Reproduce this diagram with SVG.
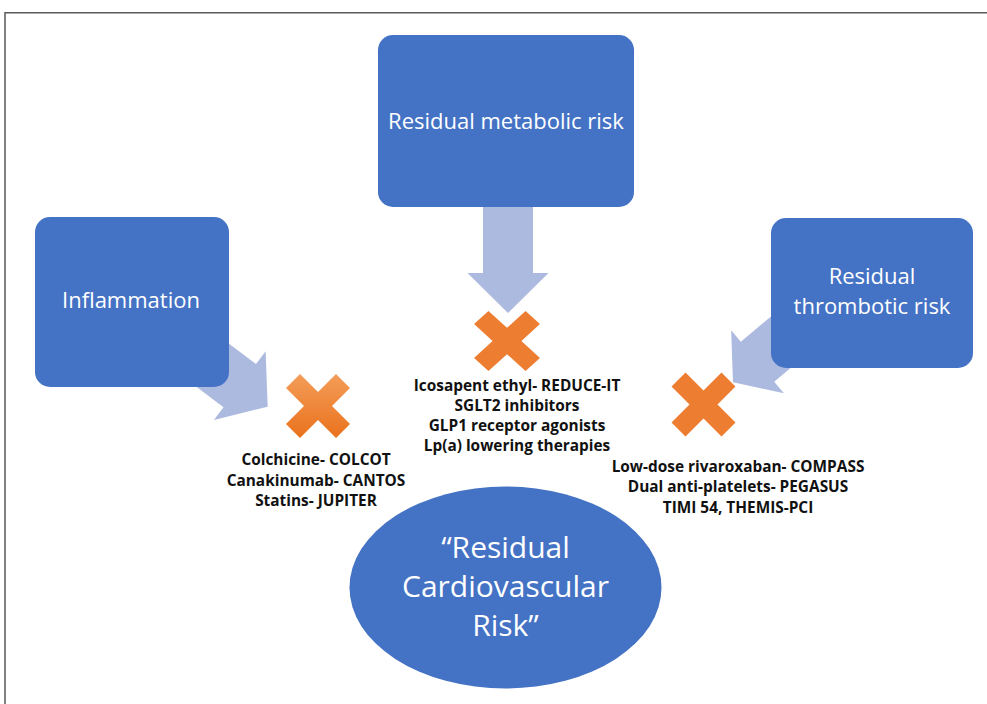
<svg xmlns="http://www.w3.org/2000/svg" xmlns:xlink="http://www.w3.org/1999/xlink" width="987" height="704" viewBox="0 0 987 704">
<style>
.node{fill:#4472C4;}
.arrow{fill:#ADBAE0;}
.xm{fill:#ED7D31;}
.ntxt{font-family:"Open Sans","Liberation Sans",sans-serif;font-size:22px;fill:#FFFFFF;text-anchor:middle;}
.etxt{font-family:"Open Sans","Liberation Sans",sans-serif;font-size:30px;fill:#FFFFFF;text-anchor:middle;}
.lbl{font-family:"Open Sans","Liberation Sans",sans-serif;font-size:15.4px;font-weight:bold;fill:#111111;text-anchor:middle;}
.frame{fill:none;stroke:#5A5A5A;stroke-width:1.5;}
</style>
<defs>
<linearGradient id="xgrad" x1="0" y1="0" x2="0" y2="1">
<stop offset="0" stop-color="#F49D58"/>
<stop offset="1" stop-color="#E9721D"/>
</linearGradient>
<path id="xmark" d="M-32,-18 L-18,-32 L0,-14 L18,-32 L32,-18 L14,0 L32,18 L18,32 L0,14 L-18,32 L-32,18 L-14,0 Z"/>
</defs>
<rect width="987" height="704" fill="#FFFFFF"/>
<path class="frame" d="M5,704 L5,12.75 L987,12.75"/>

<g id="connectors">
<path class="arrow" transform="translate(508,313) rotate(90)" d="M0,0 L-40,-40.5 L-40,-25 L-110,-25 L-110,25 L-40,25 L-40,40.5 Z"/>
<path class="arrow" transform="translate(267.7,406.7) rotate(37)" d="M0,0 L-35,-43 L-35,-27 L-110,-27 L-110,27 L-35,27 L-35,43 Z"/>
<path class="arrow" transform="translate(733,382.3) rotate(140)" d="M0,0 L-32,-41 L-32,-26 L-110,-26 L-110,26 L-32,26 L-32,41 Z"/>
</g>

<g id="node-metabolic">
<rect class="node" x="378" y="35" width="256" height="172" rx="15"/>
<text class="ntxt" x="506" y="129">Residual metabolic risk</text>
</g>
<g id="node-inflammation">
<rect class="node" x="35" y="217" width="194" height="170" rx="15"/>
<text class="ntxt" x="131" y="308">Inflammation</text>
</g>
<g id="node-thrombotic">
<rect class="node" x="771" y="218" width="202" height="150" rx="15"/>
<text class="ntxt" x="872" y="284">Residual</text>
<text class="ntxt" x="872" y="314">thrombotic risk</text>
</g>

<g id="block-metabolic">
<use xlink:href="#xmark" href="#xmark" class="xm" transform="translate(507,341) scale(1.03,0.94)"/>
<text class="lbl" x="517" y="390.5">Icosapent ethyl- REDUCE-IT</text>
<text class="lbl" x="517" y="410.5">SGLT2 inhibitors</text>
<text class="lbl" x="517" y="430.5">GLP1 receptor agonists</text>
<text class="lbl" x="517" y="450.5">Lp(a) lowering therapies</text>
</g>
<g id="block-inflammation">
<use xlink:href="#xmark" href="#xmark" fill="url(#xgrad)" transform="translate(318,406)"/>
<text class="lbl" x="316" y="465">Colchicine- COLCOT</text>
<text class="lbl" x="316" y="485.5">Canakinumab- CANTOS</text>
<text class="lbl" x="316" y="506">Statins- JUPITER</text>
</g>
<g id="block-thrombotic">
<use xlink:href="#xmark" href="#xmark" class="xm" transform="translate(703.5,404.5)"/>
<text class="lbl" x="738" y="471.5">Low-dose rivaroxaban- COMPASS</text>
<text class="lbl" x="738" y="492">Dual anti-platelets- PEGASUS</text>
<text class="lbl" x="738" y="512.5">TIMI 54, THEMIS-PCI</text>
</g>

<g id="node-residual-cv-risk">
<ellipse class="node" cx="505.5" cy="587.5" rx="156" ry="101"/>
<text class="etxt" x="505.5" y="558">“Residual</text>
<text class="etxt" x="505.5" y="597">Cardiovascular</text>
<text class="etxt" x="505.5" y="636">Risk”</text>
</g>
</svg>
